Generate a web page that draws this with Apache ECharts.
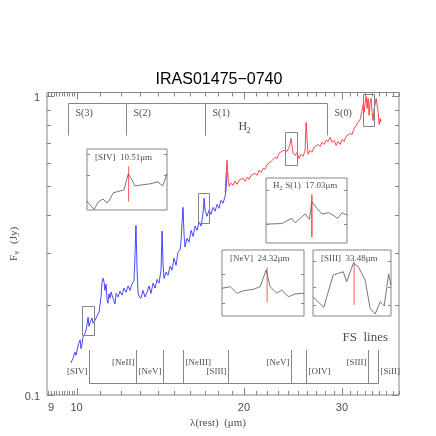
<!DOCTYPE html>
<html>
<head>
<meta charset="utf-8">
<script src="https://cdn.jsdelivr.net/npm/echarts@6/dist/echarts.min.js"></script>
<style>
html, body { margin: 0; padding: 0; background: #fff; }
#chart { width: 436px; height: 436px; }
</style>
</head>
<body>
<div id="chart"></div>
<script>
// IRS spectrum, short-low (blue) and long-low (red), wavelength in um, flux in Jy
const slWave = [9.77,9.86,9.94,9.98,10.06,10.15,10.19,10.23,10.27,10.36,10.40,10.44,10.49,10.53,10.58,10.66,10.71,10.80,10.89,10.98,
  11.07,11.11,11.16,11.21,11.25,11.30,11.35,11.39,11.44,11.49,11.54,11.63,11.73,11.78,11.88,11.97,12.07,12.17,12.28,12.38,
  12.48,12.58,12.69,12.74,12.79,12.85,12.90,12.95,13.06,13.17,13.28,13.39,13.50,13.61,13.73,13.84,13.96,14.07,14.19,14.25,
  14.31,14.37,14.49,14.61,14.73,14.85,14.97,15.10,15.22,15.35,15.42,15.48,15.54,15.61,15.67,15.80,15.93,16.07,16.20,16.34,
  16.47,16.61,16.75,16.89,16.96,17.03,17.17,17.31,17.45,17.60,17.75,17.89,18.04,18.19,18.34,18.50,18.57,18.65];
const slFlux = [0.128,0.133,0.139,0.136,0.146,0.153,0.143,0.148,0.156,0.161,0.165,0.171,0.182,0.170,0.175,0.181,0.174,0.178,0.184,0.190,
  0.214,0.237,0.246,0.239,0.224,0.235,0.208,0.203,0.218,0.211,0.221,0.211,0.202,0.219,0.213,0.223,0.216,0.228,0.221,0.232,
  0.224,0.235,0.242,0.294,0.370,0.262,0.221,0.214,0.211,0.224,0.213,0.221,0.232,0.219,0.237,0.228,0.244,0.237,0.262,0.354,
  0.272,0.246,0.258,0.252,0.270,0.262,0.287,0.272,0.301,0.306,0.330,0.379,0.425,0.343,0.313,0.335,0.325,0.356,0.340,0.368,
  0.356,0.379,0.368,0.409,0.456,0.416,0.397,0.416,0.403,0.425,0.413,0.435,0.422,0.449,0.439,0.463,0.485,0.557];
const llWave = [18.50,18.57,18.65,18.73,18.81,18.96,19.12,19.28,19.44,19.60,19.76,19.93,20.09,20.26,20.43,20.60,20.77,20.94,21.12,21.29,
  21.47,21.65,21.83,22.01,22.19,22.38,22.56,22.75,22.94,23.13,23.32,23.52,23.71,23.91,24.11,24.21,24.31,24.41,24.51,24.72,
  24.92,25.13,25.34,25.55,25.76,25.87,25.98,26.08,26.30,26.52,26.74,26.96,27.19,27.41,27.64,27.87,28.10,28.34,28.57,28.81,
  29.05,29.29,29.53,29.78,30.03,30.28,30.53,30.78,31.04,31.30,31.56,31.82,32.09,32.35,32.62,32.76,32.89,33.03,33.17,33.30,
  33.44,33.58,33.72,33.86,34.00,34.14,34.28,34.43,34.57,34.71,34.86,35.00,35.15,35.29];
const llFlux = [0.477,0.544,0.611,0.532,0.500,0.512,0.504,0.520,0.508,0.524,0.516,0.532,0.520,0.536,0.528,0.544,0.536,0.553,0.544,0.566,
  0.557,0.574,0.570,0.592,0.583,0.606,0.602,0.625,0.620,0.645,0.640,0.660,0.670,0.655,0.675,0.696,0.724,0.680,0.645,0.635,
  0.650,0.620,0.640,0.630,0.660,0.819,0.713,0.640,0.660,0.650,0.675,0.665,0.691,0.680,0.702,0.691,0.713,0.707,0.729,0.702,
  0.713,0.686,0.707,0.691,0.718,0.707,0.735,0.729,0.752,0.746,0.782,0.788,0.819,0.838,0.898,0.940,0.884,0.955,1.000,0.912,
  0.985,0.864,0.955,0.985,0.884,0.831,0.912,0.940,0.985,1.000,0.884,0.806,0.844,0.819];

// axis ticks
const xTickMinor = [8.9,9.0,9.1,9.2,9.3,9.4,9.5,9.6,9.7,9.8,9.9,11,12,13,14,15,16,17,18,19,21,22,23,24,25,26,27,28,29,31,32,33,34,35,36,37,38];
const xTickMajor = [10, 20, 30];
const xTickLabels = [9, 10, 20, 30];
const yTickMinor = [0.2, 0.3, 0.4, 0.5, 0.6, 0.7, 0.8, 0.9];
const yTickMajor = [0.1, 1];
const yTickLabels = [0.1, 1];

// line identifications
const h2Lines = [9.66, 12.28, 17.03, 28.22];
const h2Labels = ['S(3)', 'S(2)', 'S(1)', 'S(0)'];
const fsLines = [10.51, 12.81, 14.32, 15.56, 18.71, 24.32, 25.89, 33.48, 34.82];
const fsLabels = ['[SIV]', '[NeII]', '[NeV]', '[NeIII]', '[SIII]', '[NeV]', '[OIV]', '[SIII]', '[SiII]'];

// boxes around the zoomed lines on the spectrum
const zoomBoxWave = [[10.22, 10.72], [16.56, 17.33], [23.71, 24.89], [32.80, 34.28]];
const zoomBoxFlux = [[0.158, 0.198], [0.378, 0.475], [0.588, 0.760], [0.796, 1.021]];

// insets: relative flux against wavelength
const insetTitles = ['[SIV]  10.51\u03bcm', ' S(1)  17.03\u03bcm', '[NeV]  24.32\u03bcm', '[SIII]  33.48\u03bcm'];
const insetLines = [10.51, 17.03, 24.32, 33.48];
const insetRanges = [[10.25, 10.75], [16.60, 17.36], [23.66, 24.86], [32.69, 34.19]];
const insetWave = [
  [10.25,10.27,10.295,10.32,10.35,10.376,10.395,10.413,10.457,10.481,10.508,10.531,10.55,10.593,10.643,10.692,10.723,10.75],
  [16.60,16.748,16.842,16.873,16.967,17.008,17.03,17.077,17.125,17.187,17.228,17.271,17.313,17.36],
  [23.66,23.78,23.879,23.975,24.121,24.218,24.306,24.364,24.462,24.535,24.631,24.729,24.86],
  [32.69,32.897,33.078,33.271,33.337,33.465,33.562,33.692,33.789,33.886,33.983,34.06,34.143,34.19]
];
const insetFlux = [
  [0.148,0.082,0.01,0.132,0.181,0.115,0.181,0.28,0.313,0.33,0.593,0.494,0.395,0.412,0.428,0.461,0.395,0.593],
  [0.29,0.30,0.379,0.311,0.446,0.363,0.637,0.534,0.446,0.466,0.43,0.379,0.466,0.43],
  [0.42,0.444,0.344,0.383,0.405,0.444,0.697,0.444,0.344,0.394,0.292,0.333,0.344],
  [0.292,0.132,0.621,0.671,0.52,0.798,0.747,0.545,0.117,0.03,0.217,0.152,0.636,0.47]
];
const insetMark = [[0.137, 0.713], [0.093, 0.741], [0.202, 0.738], [0.167, 0.823]];
const insetTicks = [[0.58, 0.91], [0.30, 0.81], [0.20, 0.636], [0.167, 0.444, 0.838]];

const frameGray = '#858585';
const textGray = '#4d4d4d';
const serif = "'Liberation Serif', 'DejaVu Serif', serif";
const sans = "'Liberation Sans', 'DejaVu Sans', sans-serif";

const zip = (a, b) => a.map((v, i) => [v, b[i]]);
const crisp = v => Math.round(v) + 0.5;

function seg(x1, y1, x2, y2, color, width) {
  return {
    type: 'line', silent: true,
    shape: { x1: x1, y1: y1, x2: x2, y2: y2 },
    style: { stroke: color || frameGray, lineWidth: width || 1 }
  };
}

function label(x, y, text, font, align, color) {
  return {
    type: 'text', silent: true, x: x, y: y,
    style: {
      text: text, font: font, fill: color || textGray,
      align: align || 'left', verticalAlign: 'middle',
      textAlign: align || 'left', textVerticalAlign: 'middle'
    }
  };
}

function renderFrame(params, api) {
  const cs = params.coordSys;
  const L = cs.x, T = cs.y, R = cs.x + cs.width, B = cs.y + cs.height;
  const px = v => crisp(api.coord([v, 0.5])[0]);
  const py = v => crisp(api.coord([10, v])[1]);
  const out = [];
  xTickMinor.forEach(v => { const x = px(v); out.push(seg(x, B, x, B - 4), seg(x, T, x, T + 4)); });
  xTickMajor.forEach(v => { const x = px(v); out.push(seg(x, B, x, B - 7), seg(x, T, x, T + 7)); });
  yTickMinor.forEach(v => { const y = py(v); out.push(seg(L, y, L + 4, y), seg(R, y, R - 4, y)); });
  yTickMajor.forEach(v => { const y = py(v); out.push(seg(L, y, L + 7, y), seg(R, y, R - 7, y)); });
  xTickLabels.forEach(v => out.push(label(api.coord([v, 0.5])[0], B + 13, String(v), '11px ' + sans, 'center')));
  yTickLabels.forEach(v => out.push(label(L - 7, api.coord([10, v])[1] + 2, String(v), '11px ' + sans, 'right')));
  return { type: 'group', children: out };
}

function renderLineIds(params, api) {
  const cs = params.coordSys;
  const T = cs.y, R = cs.x + cs.width, B = cs.y + cs.height;
  const px = v => crisp(api.coord([v, 0.5])[0]);
  const out = [];

  // H2 ladder along the top
  const hy = crisp(T + 10), hb = T + 43;
  const hx = h2Lines.map(px);
  out.push(seg(hx[0], hy, hx[hx.length - 1], hy));
  hx.forEach((x, i) => {
    out.push(seg(x, hy, x, hb));
    out.push(label(x + 7, hy + 9.5, h2Labels[i], '10px ' + serif));
  });
  out.push(label(hx[2] + 33, hy + 23, 'H', '12px ' + serif));
  out.push(label(hx[2] + 41, hy + 27, '2', '8px ' + serif));

  // fine-structure ladder along the bottom
  const fy = crisp(B - 12), ft = B - 45;
  const fx = fsLines.map(px);
  const fsRight = [false, false, false, true, false, false, true, false, true];
  const fsHigh = [false, true, false, true, false, true, false, true, false];
  out.push(seg(fx[0], fy, fx[fx.length - 1], fy));
  fx.forEach((x, i) => {
    out.push(seg(x, ft, x, fy));
    out.push(label(fsRight[i] ? x + 2 : x - 2, fsHigh[i] ? B - 32 : B - 23, fsLabels[i], '9px ' + serif,
      fsRight[i] ? 'left' : 'right'));
  });
  out.push(label(R - 11, B - 57, 'FS  lines', '13px ' + serif, 'right'));

  // boxes around the zoomed lines
  zoomBoxWave.forEach((w, i) => {
    const p1 = api.coord([w[0], zoomBoxFlux[i][1]]);
    const p2 = api.coord([w[1], zoomBoxFlux[i][0]]);
    out.push({
      type: 'rect', silent: true,
      shape: { x: crisp(p1[0]), y: crisp(p1[1]), width: Math.round(p2[0] - p1[0]), height: Math.round(p2[1] - p1[1]) },
      style: { fill: 'none', stroke: frameGray, lineWidth: 1 }
    });
  });
  return { type: 'group', children: out };
}

function insetDeco(i) {
  return function (params, api) {
    const cs = params.coordSys;
    const L = cs.x, T = cs.y, R = cs.x + cs.width;
    const out = [];
    insetTicks[i].forEach(v => {
      const y = crisp(api.coord([insetRanges[i][0], v])[1]);
      out.push(seg(L, y, L + 3, y), seg(R, y, R - 3, y));
    });
    if (i === 1) {
      out.push(label(L + 7, T + 8, 'H', '9px ' + serif));
      out.push(label(L + 13.5, T + 10.5, '2', '6px ' + serif));
      out.push(label(L + 17, T + 8, insetTitles[i], '9px ' + serif));
    } else {
      out.push(label(L + 8, T + 9, insetTitles[i], '9px ' + serif));
    }
    return { type: 'group', children: out };
  };
}

const noAxis = { axisLine: { show: false }, axisTick: { show: false }, axisLabel: { show: false }, splitLine: { show: false } };

const insetBoxes = [
  { left: 87, top: 149, width: 80, height: 61 },
  { left: 266, top: 178, width: 81, height: 65 },
  { left: 222, top: 250, width: 82, height: 66 },
  { left: 313, top: 250, width: 78, height: 66 }
];

const grids = [{ left: 47, top: 92.5, width: 352, height: 302.5, show: true, borderColor: frameGray, borderWidth: 1, backgroundColor: 'transparent' }];
const xAxes = [Object.assign({ type: 'log', gridIndex: 0, min: 8.85, max: 38.0 }, noAxis)];
const yAxes = [Object.assign({ type: 'log', gridIndex: 0, min: 0.1, max: 1.031 }, noAxis)];

const series = [
  { type: 'custom', xAxisIndex: 0, yAxisIndex: 0, data: [[10, 0.5]], renderItem: renderFrame, silent: true, z: 5 },
  { type: 'custom', xAxisIndex: 0, yAxisIndex: 0, data: [[10, 0.5]], renderItem: renderLineIds, silent: true, z: 4 },
  { type: 'line', xAxisIndex: 0, yAxisIndex: 0, data: zip(slWave, slFlux), symbol: 'none', silent: true,
    lineStyle: { color: '#1a1aff', width: 0.8 }, z: 3 },
  { type: 'line', xAxisIndex: 0, yAxisIndex: 0, data: zip(llWave, llFlux), symbol: 'none', silent: true,
    lineStyle: { color: '#ff1a1a', width: 0.8 }, z: 3 }
];

insetBoxes.forEach((box, i) => {
  const g = i + 1;
  grids.push(Object.assign({ show: true, borderColor: frameGray, borderWidth: 1, backgroundColor: '#fff' }, box));
  xAxes.push(Object.assign({ type: 'value', gridIndex: g, min: insetRanges[i][0], max: insetRanges[i][1] }, noAxis));
  yAxes.push(Object.assign({ type: 'value', gridIndex: g, min: 0, max: 1 }, noAxis));
  series.push(
    { type: 'line', xAxisIndex: g, yAxisIndex: g, symbol: 'none', silent: true,
      data: [[insetLines[i], insetMark[i][0]], [insetLines[i], insetMark[i][1]]],
      lineStyle: { color: '#ff5a5a', width: i === 1 ? 1.6 : 1 }, z: 3 },
    { type: 'line', xAxisIndex: g, yAxisIndex: g, symbol: 'none', silent: true,
      data: zip(insetWave[i], insetFlux[i]), lineStyle: { color: '#555', width: 0.8 }, z: 4 },
    { type: 'custom', xAxisIndex: g, yAxisIndex: g, data: [[insetRanges[i][0], 0.5]], renderItem: insetDeco(i), silent: true, z: 5 }
  );
});

const chart = echarts.init(document.getElementById('chart'));
chart.setOption({
  animation: false,
  backgroundColor: '#fff',
  grid: grids,
  xAxis: xAxes,
  yAxis: yAxes,
  series: series,
  graphic: [
    { type: 'text', x: 219, y: 80, silent: true,
      style: { text: 'IRAS01475\u22120740', font: "16px 'Liberation Sans', sans-serif", fill: '#000',
        align: 'center', verticalAlign: 'middle', textAlign: 'center', textVerticalAlign: 'middle' } },
    { type: 'text', x: 218, y: 423, silent: true,
      style: { text: '\u03bb(rest)  (\u03bcm)', font: '11px ' + serif, fill: textGray,
        align: 'center', verticalAlign: 'middle', textAlign: 'center', textVerticalAlign: 'middle' } },
    { type: 'group', x: 14, y: 245, rotation: Math.PI / 2, silent: true,
      children: [
        { type: 'text', x: -16, y: 0, style: { text: 'F', font: '11px ' + serif, fill: textGray, align: 'left', verticalAlign: 'middle', textAlign: 'left', textVerticalAlign: 'middle' } },
        { type: 'text', x: -9.5, y: 3, style: { text: '\u03bd', font: '8px ' + serif, fill: textGray, align: 'left', verticalAlign: 'middle', textAlign: 'left', textVerticalAlign: 'middle' } },
        { type: 'text', x: 1, y: 0, style: { text: '(Jy)', font: '11px ' + serif, fill: textGray, align: 'left', verticalAlign: 'middle', textAlign: 'left', textVerticalAlign: 'middle' } }
      ] }
  ]
});
</script>
</body>
</html>
